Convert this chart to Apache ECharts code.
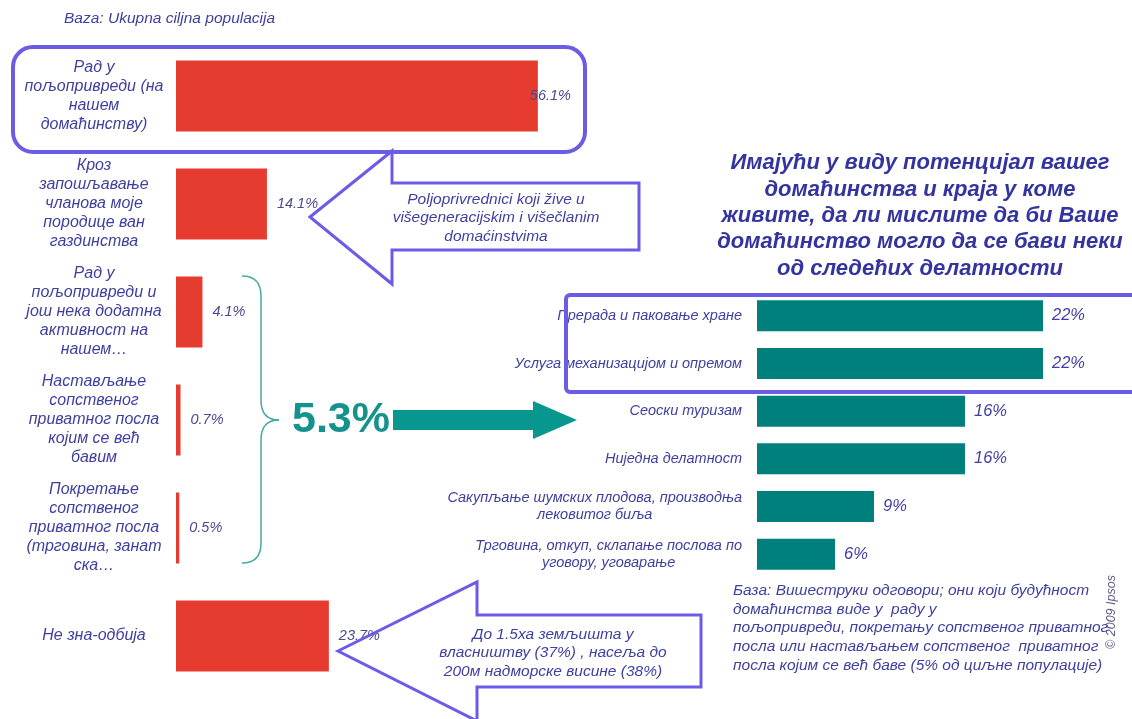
<!DOCTYPE html>
<html>
<head>
<meta charset="utf-8">
<script src="https://cdn.jsdelivr.net/npm/echarts@6/dist/echarts.min.js"></script>
<style>
  html, body { margin: 0; padding: 0; background: #ffffff; }
  #chart { width: 1132px; height: 719px; }
</style>
</head>
<body>
<div id="chart"></div>
<script>
// left chart: base = whole target population
const leftCategories = [
  'Рад у\nпољопривреди (на\nнашем\nдомаћинству)',
  'Кроз\nзапошљавање\nчланова моје\nпородице ван\nгаздинства',
  'Рад у\nпољопривреди и\nјош нека додатна\nактивност на\nнашем…',
  'Настављање\nсопственог\nприватног посла\nкојим се већ\nбавим',
  'Покретање\nсопственог\nприватног посла\n(трговина, занат\nска…',
  'Не зна-одбија'
];
const leftValues = [56.1, 14.1, 4.1, 0.7, 0.5, 23.7];

// right chart: activities
const rightCategories = [
  'Прерада и паковање хране',
  'Услуга механизацијом и опремом',
  'Сеоски туризам',
  'Ниједна делатност',
  'Сакупљање шумских плодова, производња\nлековитог биља',
  'Трговина, откуп, склапање послова по\nуговору, уговарање'
];
const rightValues = [22, 22, 16, 16, 9, 6];

const FONT = "'Liberation Sans', Arial, sans-serif";
const TEXT = '#3f3fa2';
const FRAME = '#6b5ce6';
const RED = '#e63c30';
const TEAL = '#00807c';
const TEAL2 = '#07978f';
const BRACE = '#45aaa2';

const myChart = echarts.init(document.getElementById('chart'), null, { renderer: 'canvas' });

// brace "}" made of curve pieces
const braceStyle = { fill: 'none', stroke: BRACE, lineWidth: 1.5 };
const brace = [
  { type: 'bezierCurve', shape: { x1: 242, y1: 276, cpx1: 261, cpy1: 276, x2: 261, y2: 296 } },
  { type: 'line', shape: { x1: 261, y1: 296, x2: 261, y2: 400 } },
  { type: 'bezierCurve', shape: { x1: 261, y1: 400, cpx1: 261, cpy1: 420, x2: 279, y2: 420 } },
  { type: 'bezierCurve', shape: { x1: 279, y1: 420, cpx1: 261, cpy1: 420, x2: 261, y2: 440 } },
  { type: 'line', shape: { x1: 261, y1: 440, x2: 261, y2: 543 } },
  { type: 'bezierCurve', shape: { x1: 261, y1: 543, cpx1: 261, cpy1: 563, x2: 242, y2: 563 } }
].map(el => Object.assign(el, { z: 10, style: braceStyle }));

const option = {
  backgroundColor: '#ffffff',
  animation: false,
  grid: [
    { left: 176, top: 42, width: 387, height: 648 },
    { left: 757, top: 292, width: 325, height: 286 }
  ],
  xAxis: [
    { gridIndex: 0, type: 'value', min: 0, max: 60, show: false },
    { gridIndex: 1, type: 'value', min: 0, max: 25, show: false }
  ],
  yAxis: [
    {
      gridIndex: 0,
      type: 'category',
      inverse: true,
      data: leftCategories,
      axisLine: { show: false },
      axisTick: { show: false },
      splitLine: { show: false },
      axisLabel: {
        interval: 0,
        align: 'center',
        margin: 82,
        color: TEXT,
        fontFamily: FONT,
        fontStyle: 'italic',
        fontSize: 16,
        lineHeight: 19
      }
    },
    {
      gridIndex: 1,
      type: 'category',
      inverse: true,
      data: rightCategories,
      axisLine: { show: false },
      axisTick: { show: false },
      splitLine: { show: false },
      axisLabel: {
        interval: 0,
        margin: 15,
        color: TEXT,
        fontFamily: FONT,
        fontStyle: 'italic',
        fontSize: 14.5,
        lineHeight: 17,
        // center each line of a wrapped label inside its block
        formatter: (v) => v.split('\n').map(s => '{c|' + s + '}').join('\n'),
        rich: {
          c: {
            align: 'center',
            color: TEXT,
            fontFamily: FONT,
            fontStyle: 'italic',
            fontSize: 14.5,
            lineHeight: 17
          }
        }
      }
    }
  ],
  series: [
    {
      type: 'bar',
      xAxisIndex: 0,
      yAxisIndex: 0,
      barWidth: 71,
      data: leftValues.map((v, i) => (i === 0
        ? { value: v, label: { offset: [-18, 0] } }
        : v)),
      itemStyle: { color: RED },
      label: {
        show: true,
        position: 'right',
        distance: 10,
        formatter: '{c}%',
        color: '#4a4a90',
        fontFamily: FONT,
        fontStyle: 'italic',
        fontSize: 14.5
      }
    },
    {
      type: 'bar',
      xAxisIndex: 1,
      yAxisIndex: 1,
      barWidth: 31,
      data: rightValues,
      itemStyle: { color: TEAL },
      label: {
        show: true,
        position: 'right',
        distance: 9,
        formatter: '{c}%',
        color: TEXT,
        fontFamily: FONT,
        fontStyle: 'italic',
        fontSize: 16.5
      }
    }
  ],
  graphic: [
    {
      type: 'text', x: 64, y: 19, z: 10,
      style: {
        text: 'Baza: Ukupna ciljna populacija',
        fill: TEXT, font: 'italic 15.5px ' + FONT,
        align: 'left', verticalAlign: 'middle'
      }
    },
    {
      type: 'rect', z: 10,
      shape: { x: 13, y: 47, width: 572, height: 105, r: 20 },
      style: { fill: 'none', stroke: FRAME, lineWidth: 4 }
    },
    {
      type: 'polygon', z: 10,
      shape: { points: [[310, 217], [392, 151], [392, 183], [639, 183], [639, 250], [392, 250], [392, 284]] },
      style: { fill: 'none', stroke: FRAME, lineWidth: 3 }
    },
    {
      type: 'text', x: 496, y: 218, z: 10,
      style: {
        text: 'Poljoprivrednici koji žive u\nvišegeneracijskim i višečlanim\ndomaćinstvima',
        fill: TEXT, font: 'italic 15.5px ' + FONT, lineHeight: 18.5,
        align: 'center', verticalAlign: 'middle'
      }
    },
    {
      type: 'polygon', z: 10,
      shape: { points: [[338, 651], [477, 582], [477, 615], [701, 615], [701, 687], [477, 687], [477, 721]] },
      style: { fill: 'none', stroke: FRAME, lineWidth: 3 }
    },
    {
      type: 'text', x: 553, y: 653, z: 10,
      style: {
        text: 'До 1.5ха земљишта у\nвласништву (37%) , насеља до\n200м надморске висине (38%)',
        fill: TEXT, font: 'italic 15.5px ' + FONT, lineHeight: 18.5,
        align: 'center', verticalAlign: 'middle'
      }
    },
    ...brace,
    {
      type: 'text', x: 292, y: 420, z: 10,
      style: {
        text: '5.3%', fill: '#16928c', font: 'bold 43px ' + FONT,
        align: 'left', verticalAlign: 'middle'
      }
    },
    {
      type: 'polygon', z: 10,
      shape: { points: [[393, 410], [533, 410], [533, 401], [577, 420], [533, 439], [533, 430], [393, 430]] },
      style: { fill: TEAL2 }
    },
    {
      type: 'text', x: 920, y: 216, z: 10,
      style: {
        text: 'Имајући у виду потенцијал вашег\nдомаћинства и краја у коме\nживите, да ли мислите да би Ваше\nдомаћинство могло да се бави неки\nод следећих делатности',
        fill: '#3434a0', font: 'italic bold 22px ' + FONT, lineHeight: 26.3,
        align: 'center', verticalAlign: 'middle'
      }
    },
    {
      type: 'rect', z: 10,
      shape: { x: 566, y: 295, width: 600, height: 97, r: 4 },
      style: { fill: 'none', stroke: FRAME, lineWidth: 4 }
    },
    {
      type: 'text', x: 733, y: 628, z: 10,
      style: {
        text: 'База: Вишеструки одговори; они који будућност\nдомаћинства виде у  раду у\nпољопривреди, покретању сопственог приватног\nпосла или настављањем сопственог  приватног\nпосла којим се већ баве (5% од циљне популације)',
        fill: TEXT, font: 'italic 15.5px ' + FONT, lineHeight: 18.8,
        align: 'left', verticalAlign: 'middle'
      }
    },
    {
      type: 'text', x: 1112, y: 612, z: 11, rotation: Math.PI / 2,
      style: {
        text: '© 2009 Ipsos', fill: '#5a5a8a', font: 'italic 12.5px ' + FONT,
        align: 'center', verticalAlign: 'middle'
      }
    }
  ]
};

myChart.setOption(option);

window.addEventListener('resize', () => myChart.resize());
</script>
</body>
</html>
